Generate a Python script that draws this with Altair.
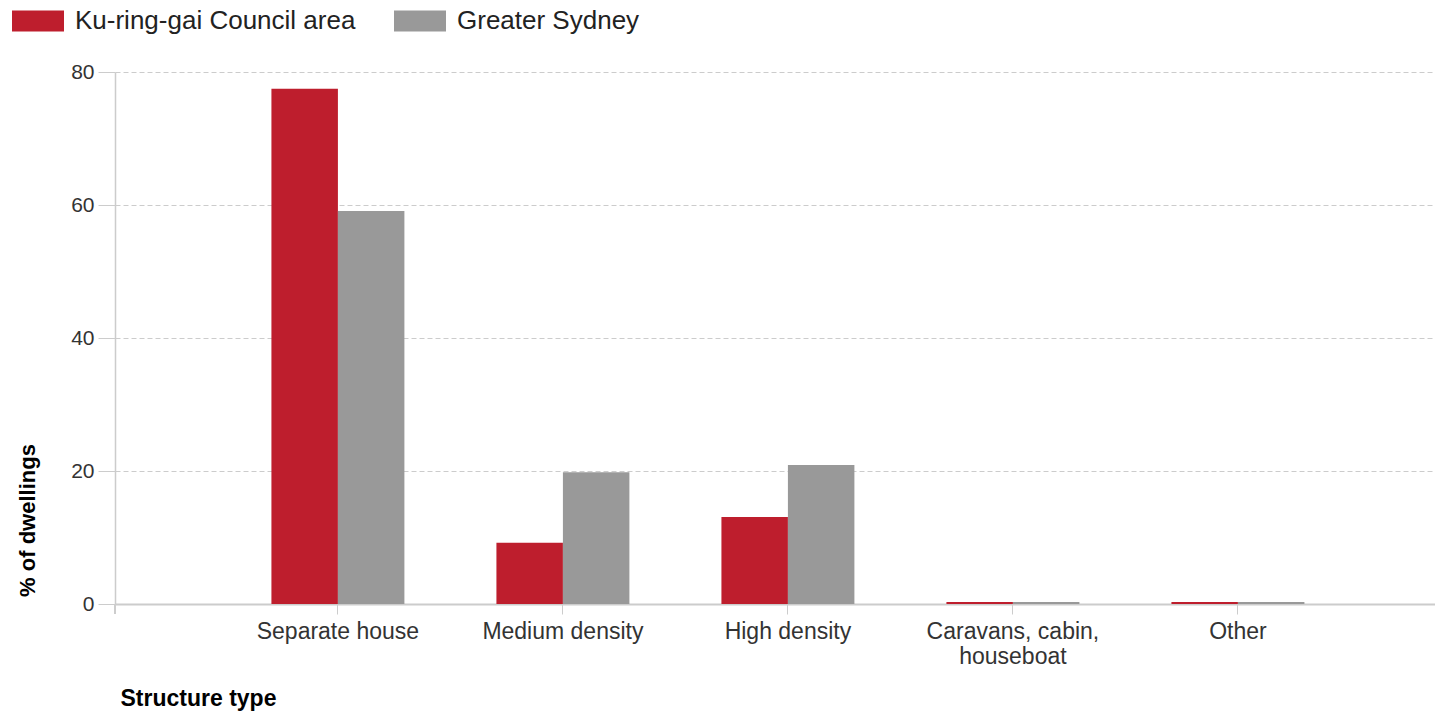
import altair as alt
import pandas as pd

categories = ["Separate house", "Medium density", "High density",
              "Caravans, cabin, houseboat", "Other"]
series_names = ["Ku-ring-gai Council area", "Greater Sydney"]
kuringgai = [77.5, 9.2, 13.1, 0.3, 0.3]
sydney = [59.1, 19.8, 20.9, 0.3, 0.3]
y_ticks = [0, 20, 40, 60, 80]

rows = []
for c, a, b in zip(categories, kuringgai, sydney):
    rows.append({"type": c, "series": series_names[0], "value": a})
    rows.append({"type": c, "series": series_names[1], "value": b})
df = pd.DataFrame(rows)

FONT = "Liberation Sans"

bars = alt.Chart(df).mark_bar().encode(
    x=alt.X("type:N", sort=categories,
            scale=alt.Scale(paddingInner=0.409, paddingOuter=0.6378, align=0.545),
            axis=alt.Axis(
                title="Structure type", labelAngle=0, labelFontSize=23,
                labelColor="#333333", labelPadding=6, labelLineHeight=25,
                labelExpr="datum.value == 'Caravans, cabin, houseboat' ? ['Caravans, cabin,', 'houseboat'] : datum.value",
                tickColor="#cccccc", tickSize=10, domainColor="#cccccc", domainWidth=2,
                titleFontSize=23, titleFontWeight="bold", titleColor="#000000",
                titleX=5, titleY=101, titleAlign="left", titleBaseline="alphabetic",
                grid=False)),
    xOffset=alt.XOffset("series:N", sort=series_names,
                        scale=alt.Scale(paddingInner=0, paddingOuter=0)),
    y=alt.Y("value:Q", scale=alt.Scale(domain=[0, 80], nice=False),
            axis=alt.Axis(
                title="% of dwellings", values=y_ticks, labelFontSize=21,
                labelColor="#333333", labelPadding=4, tickSize=17, tickColor="#cccccc",
                domainColor="#cccccc", domainWidth=1.5,
                grid=True, gridColor="#cccccc", gridDash=[5, 3],
                titleFontSize=22, titleFontWeight="bold", titleColor="#000000",
                titleX=-88, titleY=448, titleAlign="center", titleBaseline="middle",
                titleAngle=-90)),
    color=alt.Color("series:N", sort=series_names,
                    scale=alt.Scale(domain=series_names, range=["#BE1E2D", "#999999"]),
                    legend=alt.Legend(
                        title=None, orient="none", direction="horizontal",
                        legendX=-103, legendY=-77,
                        symbolType="M-1,-0.4H1V0.4H-1Z", symbolSize=2704,
                        symbolStrokeWidth=0, symbolOpacity=1,
                        labelFontSize=26, labelColor="#222222", labelOffset=11,
                        labelLimit=600, columnPadding=38, labelFont=FONT)),
)

tick0 = alt.Chart(df).mark_rule(color="#cccccc", strokeWidth=1.5).encode(
    x=alt.value(0), y=alt.value(532), y2=alt.value(542))

chart = alt.layer(bars, tick0).properties(
    width=1320, height=532,
    autosize=alt.AutoSizeParams(type="none"),
    padding={"left": 107, "top": 64, "right": 0, "bottom": 109},
).configure(font=FONT).configure_view(stroke=None)

chart.save("out.html", embed_options={"renderer": "svg", "actions": False})
